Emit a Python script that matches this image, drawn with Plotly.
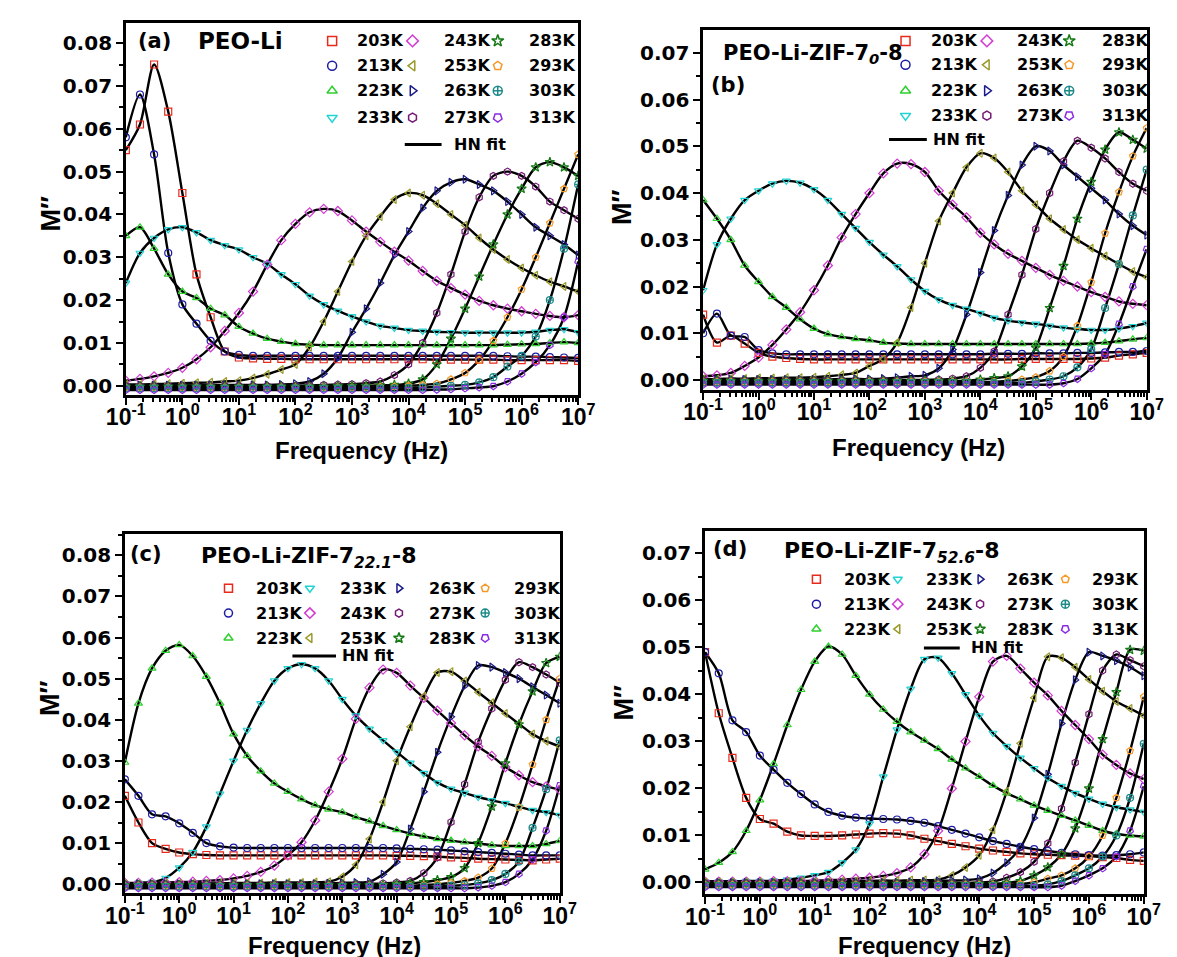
import plotly.graph_objects as go

# ---------------- data ----------------
FREQ_HZ = [0.1, 0.1778, 0.3162, 0.5623, 1.0, 1.778, 3.162, 5.623, 10.0, 17.78, 31.62, 56.23,
           100.0, 177.8, 316.2, 562.3, 1000.0, 1778.0, 3162.0, 5623.0, 1.0e4, 1.778e4, 3.162e4, 5.623e4,
           1.0e5, 1.778e5, 3.162e5, 5.623e5, 1.0e6, 1.778e6, 3.162e6, 5.623e6, 1.0e7]
TEMPS = ["203K", "213K", "223K", "233K", "243K", "253K", "263K", "273K", "283K", "293K", "303K", "313K"]
X_TICK_VALUES = [0.1, 1, 10, 100, 1e3, 1e4, 1e5, 1e6, 1e7]
X_TICK_LABELS = ["10<sup>-1</sup>", "10<sup>0</sup>", "10<sup>1</sup>", "10<sup>2</sup>", "10<sup>3</sup>",
                 "10<sup>4</sup>", "10<sup>5</sup>", "10<sup>6</sup>", "10<sup>7</sup>"]

# Panel (a) PEO-Li
A_203 = [0.0550, 0.0610, 0.0750, 0.0640, 0.0450, 0.0260, 0.0160, 0.0080, 0.0066, 0.0064, 0.0063, 0.0063, 0.0062, 0.0062, 0.0062, 0.0062, 0.0062, 0.0062, 0.0062, 0.0062, 0.0062, 0.0062, 0.0061, 0.0061, 0.0061, 0.0061, 0.0061, 0.0060, 0.0060, 0.0060, 0.0060, 0.0060, 0.0058]
A_213 = [0.0580, 0.0680, 0.0540, 0.0310, 0.0190, 0.0145, 0.0105, 0.0080, 0.0072, 0.0070, 0.0070, 0.0070, 0.0070, 0.0070, 0.0070, 0.0070, 0.0070, 0.0070, 0.0070, 0.0070, 0.0070, 0.0070, 0.0070, 0.0070, 0.0070, 0.0070, 0.0070, 0.0069, 0.0068, 0.0068, 0.0067, 0.0066, 0.0065]
A_223 = [0.0350, 0.0370, 0.0320, 0.0260, 0.0220, 0.0205, 0.0180, 0.0165, 0.0138, 0.0122, 0.0110, 0.0103, 0.0098, 0.0096, 0.0095, 0.0095, 0.0095, 0.0095, 0.0095, 0.0095, 0.0095, 0.0095, 0.0095, 0.0095, 0.0095, 0.0095, 0.0095, 0.0096, 0.0097, 0.0098, 0.0100, 0.0102, 0.0100]
A_233 = [0.0240, 0.0310, 0.0345, 0.0365, 0.0370, 0.0358, 0.0340, 0.0328, 0.0318, 0.0300, 0.0285, 0.0260, 0.0237, 0.0210, 0.0190, 0.0175, 0.0162, 0.0150, 0.0140, 0.0135, 0.0130, 0.0128, 0.0126, 0.0125, 0.0124, 0.0124, 0.0124, 0.0124, 0.0124, 0.0126, 0.0130, 0.0132, 0.0125]
A_243 = [0.0012, 0.0016, 0.0022, 0.0030, 0.0042, 0.0062, 0.0090, 0.0128, 0.0170, 0.0220, 0.0283, 0.0340, 0.0378, 0.0405, 0.0413, 0.0408, 0.0386, 0.0360, 0.0336, 0.0313, 0.0292, 0.0268, 0.0245, 0.0228, 0.0213, 0.0198, 0.0188, 0.0180, 0.0174, 0.0168, 0.0163, 0.0160, 0.0165]
A_253 = [0.0003, 0.0003, 0.0004, 0.0005, 0.0006, 0.0007, 0.0008, 0.0010, 0.0012, 0.0018, 0.0027, 0.0038, 0.0050, 0.0090, 0.0150, 0.0220, 0.0290, 0.0350, 0.0395, 0.0435, 0.0450, 0.0445, 0.0425, 0.0400, 0.0375, 0.0345, 0.0318, 0.0295, 0.0275, 0.0258, 0.0243, 0.0232, 0.0220]
A_263 = [0.0001, 0.0001, 0.0001, 0.0001, 0.0001, 0.0001, 0.0002, 0.0002, 0.0002, 0.0002, 0.0002, 0.0003, 0.0005, 0.0010, 0.0028, 0.0065, 0.0125, 0.0180, 0.0240, 0.0305, 0.0360, 0.0415, 0.0455, 0.0475, 0.0482, 0.0470, 0.0455, 0.0430, 0.0400, 0.0370, 0.0350, 0.0330, 0.0305]
A_273 = [0.0, 0.0, 0.0, 0.0, 0.0, 0.0, 0.0, 0.0, 0.0, 0.0, 0.0, 0.0, 0.0, 0.0001, 0.0002, 0.0003, 0.0004, 0.0006, 0.0010, 0.0025, 0.0050, 0.0100, 0.0170, 0.0260, 0.0360, 0.0440, 0.0490, 0.0500, 0.0490, 0.0465, 0.0430, 0.0410, 0.0390]
A_283 = [-0.0002, -0.0002, -0.0002, -0.0002, -0.0002, -0.0002, -0.0002, -0.0002, -0.0002, -0.0002, -0.0002, -0.0002, -0.0002, -0.0002, -0.0002, -0.0001, 0.0, 0.0, 0.0001, 0.0002, 0.0005, 0.0015, 0.0050, 0.0110, 0.0180, 0.0255, 0.0330, 0.0400, 0.0460, 0.0510, 0.0522, 0.0510, 0.0490]
A_293 = [-0.0004, -0.0004, -0.0004, -0.0004, -0.0004, -0.0004, -0.0004, -0.0004, -0.0004, -0.0004, -0.0004, -0.0004, -0.0004, -0.0004, -0.0004, -0.0004, -0.0004, -0.0004, -0.0003, -0.0002, 0.0, 0.0002, 0.0005, 0.0015, 0.0030, 0.0060, 0.0105, 0.0160, 0.0225, 0.0300, 0.0380, 0.0460, 0.0540]
A_303 = [-0.0006, -0.0006, -0.0006, -0.0006, -0.0006, -0.0006, -0.0006, -0.0006, -0.0006, -0.0006, -0.0006, -0.0006, -0.0006, -0.0006, -0.0006, -0.0006, -0.0006, -0.0006, -0.0006, -0.0006, -0.0005, -0.0004, -0.0002, 0.0, 0.0002, 0.0008, 0.0020, 0.0045, 0.0070, 0.0115, 0.0200, 0.0320, 0.0470]
A_313 = [-0.0010, -0.0010, -0.0010, -0.0010, -0.0010, -0.0010, -0.0010, -0.0010, -0.0010, -0.0010, -0.0010, -0.0010, -0.0010, -0.0010, -0.0010, -0.0010, -0.0010, -0.0010, -0.0010, -0.0010, -0.0010, -0.0010, -0.0009, -0.0008, -0.0006, -0.0004, -0.0001, 0.0010, 0.0028, 0.0055, 0.0095, 0.0160, 0.0290]

# Panel (b) PEO-Li-ZIF-7_0-8
B_203 = [0.0140, 0.0080, 0.0095, 0.0078, 0.0058, 0.0050, 0.0047, 0.0045, 0.0044, 0.0044, 0.0044, 0.0044, 0.0044, 0.0044, 0.0044, 0.0044, 0.0044, 0.0044, 0.0044, 0.0044, 0.0044, 0.0044, 0.0044, 0.0045, 0.0045, 0.0045, 0.0045, 0.0045, 0.0046, 0.0048, 0.0052, 0.0055, 0.0058]
B_213 = [0.0100, 0.0142, 0.0095, 0.0092, 0.0064, 0.0057, 0.0055, 0.0055, 0.0055, 0.0055, 0.0055, 0.0055, 0.0055, 0.0055, 0.0055, 0.0055, 0.0055, 0.0055, 0.0055, 0.0055, 0.0055, 0.0056, 0.0056, 0.0056, 0.0057, 0.0057, 0.0057, 0.0058, 0.0058, 0.0059, 0.0060, 0.0060, 0.0062]
B_223 = [0.0385, 0.0345, 0.0300, 0.0245, 0.0210, 0.0178, 0.0155, 0.0130, 0.0110, 0.0098, 0.0092, 0.0088, 0.0085, 0.0080, 0.0078, 0.0077, 0.0077, 0.0077, 0.0077, 0.0077, 0.0077, 0.0077, 0.0077, 0.0077, 0.0077, 0.0077, 0.0077, 0.0077, 0.0078, 0.0080, 0.0083, 0.0087, 0.0090]
B_233 = [0.0192, 0.0290, 0.0345, 0.0385, 0.0405, 0.0420, 0.0426, 0.0422, 0.0408, 0.0385, 0.0355, 0.0325, 0.0295, 0.0268, 0.0243, 0.0215, 0.0190, 0.0172, 0.0160, 0.0152, 0.0143, 0.0133, 0.0127, 0.0123, 0.0120, 0.0116, 0.0112, 0.0109, 0.0107, 0.0107, 0.0110, 0.0115, 0.0122]
B_243 = [0.0008, 0.0010, 0.0015, 0.0030, 0.0048, 0.0075, 0.0108, 0.0145, 0.0192, 0.0245, 0.0305, 0.0355, 0.0400, 0.0442, 0.0463, 0.0462, 0.0445, 0.0405, 0.0375, 0.0348, 0.0315, 0.0290, 0.0270, 0.0255, 0.0240, 0.0225, 0.0212, 0.0200, 0.0188, 0.0178, 0.0168, 0.0163, 0.0160]
B_253 = [0.0002, 0.0002, 0.0003, 0.0003, 0.0004, 0.0004, 0.0005, 0.0005, 0.0006, 0.0008, 0.0011, 0.0015, 0.0030, 0.0045, 0.0080, 0.0155, 0.0250, 0.0340, 0.0400, 0.0455, 0.0485, 0.0475, 0.0445, 0.0405, 0.0375, 0.0345, 0.0322, 0.0300, 0.0282, 0.0265, 0.0248, 0.0232, 0.0220]
B_263 = [0.0001, 0.0001, 0.0001, 0.0001, 0.0001, 0.0001, 0.0001, 0.0001, 0.0001, 0.0001, 0.0002, 0.0002, 0.0002, 0.0003, 0.0005, 0.0008, 0.0010, 0.0025, 0.0065, 0.0140, 0.0230, 0.0320, 0.0395, 0.0460, 0.0500, 0.0490, 0.0460, 0.0435, 0.0410, 0.0385, 0.0355, 0.0330, 0.0310]
B_273 = [0.0, 0.0, 0.0, 0.0, 0.0, 0.0, 0.0, 0.0, 0.0, 0.0, 0.0, 0.0, 0.0, 0.0, 0.0, 0.0, 0.0, 0.0001, 0.0003, 0.0008, 0.0026, 0.0061, 0.0140, 0.0225, 0.0323, 0.0400, 0.0468, 0.0512, 0.0497, 0.0474, 0.0445, 0.0420, 0.0405]
B_283 = [-0.0002, -0.0002, -0.0002, -0.0002, -0.0002, -0.0002, -0.0002, -0.0002, -0.0002, -0.0002, -0.0002, -0.0002, -0.0002, -0.0002, -0.0002, -0.0002, -0.0002, -0.0002, -0.0002, -0.0002, 0.0001, 0.0004, 0.0008, 0.0029, 0.0069, 0.0154, 0.0244, 0.0345, 0.0424, 0.0493, 0.0530, 0.0514, 0.0495]
B_293 = [-0.0004, -0.0004, -0.0004, -0.0004, -0.0004, -0.0004, -0.0004, -0.0004, -0.0004, -0.0004, -0.0004, -0.0004, -0.0004, -0.0004, -0.0004, -0.0004, -0.0004, -0.0004, -0.0004, -0.0004, -0.0004, -0.0004, -0.0002, 0.0001, 0.0006, 0.0019, 0.0050, 0.0116, 0.0209, 0.0314, 0.0402, 0.0479, 0.0539]
B_303 = [-0.0006, -0.0006, -0.0006, -0.0006, -0.0006, -0.0006, -0.0006, -0.0006, -0.0006, -0.0006, -0.0006, -0.0006, -0.0006, -0.0006, -0.0006, -0.0006, -0.0006, -0.0006, -0.0006, -0.0006, -0.0006, -0.0006, -0.0006, -0.0006, -0.0003, 0.0001, 0.0008, 0.0027, 0.0066, 0.0154, 0.0248, 0.0352, 0.0450]
B_313 = [-0.0010, -0.0010, -0.0010, -0.0010, -0.0010, -0.0010, -0.0010, -0.0010, -0.0010, -0.0010, -0.0010, -0.0010, -0.0010, -0.0010, -0.0010, -0.0010, -0.0010, -0.0010, -0.0010, -0.0010, -0.0010, -0.0010, -0.0010, -0.0010, -0.0010, -0.0010, -0.0007, 0.0002, 0.0025, 0.0055, 0.0120, 0.0200, 0.0280]

# Panel (c) PEO-Li-ZIF-7_22.1-8
C_203 = [0.0215, 0.0150, 0.0100, 0.0086, 0.0077, 0.0073, 0.0071, 0.0070, 0.0070, 0.0070, 0.0070, 0.0070, 0.0070, 0.0070, 0.0070, 0.0070, 0.0070, 0.0070, 0.0070, 0.0070, 0.0069, 0.0069, 0.0068, 0.0067, 0.0065, 0.0064, 0.0062, 0.0061, 0.0060, 0.0059, 0.0058, 0.0060, 0.0062]
C_213 = [0.0255, 0.0215, 0.0170, 0.0165, 0.0148, 0.0125, 0.0100, 0.0092, 0.0089, 0.0088, 0.0088, 0.0088, 0.0088, 0.0088, 0.0088, 0.0088, 0.0088, 0.0088, 0.0088, 0.0088, 0.0087, 0.0086, 0.0085, 0.0084, 0.0082, 0.0080, 0.0078, 0.0076, 0.0074, 0.0072, 0.0070, 0.0070, 0.0070]
C_223 = [0.0296, 0.0440, 0.0525, 0.0568, 0.0582, 0.0555, 0.0505, 0.0440, 0.0365, 0.0312, 0.0275, 0.0245, 0.0225, 0.0207, 0.0192, 0.0182, 0.0175, 0.0163, 0.0153, 0.0142, 0.0132, 0.0123, 0.0116, 0.0110, 0.0106, 0.0102, 0.0099, 0.0095, 0.0093, 0.0093, 0.0093, 0.0098, 0.0105]
C_233 = [0.0002, 0.0003, 0.0005, 0.0015, 0.0040, 0.0078, 0.0140, 0.0220, 0.0300, 0.0375, 0.0440, 0.0495, 0.0525, 0.0535, 0.0525, 0.0495, 0.0450, 0.0410, 0.0378, 0.0350, 0.0322, 0.0295, 0.0270, 0.0247, 0.0232, 0.0222, 0.0212, 0.0204, 0.0197, 0.0188, 0.0180, 0.0175, 0.0168]
C_243 = [0.0003, 0.0003, 0.0004, 0.0004, 0.0005, 0.0006, 0.0008, 0.0010, 0.0014, 0.0020, 0.0030, 0.0045, 0.0070, 0.0102, 0.0155, 0.0225, 0.0305, 0.0402, 0.0478, 0.0522, 0.0514, 0.0483, 0.0453, 0.0422, 0.0392, 0.0362, 0.0335, 0.0312, 0.0285, 0.0265, 0.0248, 0.0238, 0.0230]
C_253 = [0.0001, 0.0001, 0.0001, 0.0002, 0.0002, 0.0002, 0.0002, 0.0002, 0.0003, 0.0003, 0.0003, 0.0004, 0.0004, 0.0004, 0.0005, 0.0006, 0.0018, 0.0047, 0.0110, 0.0200, 0.0300, 0.0383, 0.0457, 0.0515, 0.0517, 0.0494, 0.0467, 0.0441, 0.0415, 0.0390, 0.0365, 0.0348, 0.0335]
C_263 = [0.0001, 0.0001, 0.0001, 0.0001, 0.0001, 0.0001, 0.0001, 0.0001, 0.0001, 0.0001, 0.0001, 0.0001, 0.0001, 0.0001, 0.0001, 0.0002, 0.0003, 0.0004, 0.0006, 0.0024, 0.0054, 0.0134, 0.0225, 0.0321, 0.0407, 0.0482, 0.0532, 0.0528, 0.0515, 0.0500, 0.0480, 0.0460, 0.0440]
C_273 = [0.0, 0.0, 0.0, 0.0, 0.0, 0.0, 0.0, 0.0, 0.0, 0.0, 0.0, 0.0, 0.0, 0.0, 0.0, 0.0, 0.0, 0.0, 0.0001, 0.0002, 0.0004, 0.0008, 0.0027, 0.0065, 0.0151, 0.0243, 0.0346, 0.0427, 0.0497, 0.0540, 0.0528, 0.0510, 0.0490]
C_283 = [-0.0002, -0.0002, -0.0002, -0.0002, -0.0002, -0.0002, -0.0002, -0.0002, -0.0002, -0.0002, -0.0002, -0.0002, -0.0002, -0.0002, -0.0002, -0.0002, -0.0002, -0.0002, -0.0002, -0.0002, 0.0, 0.0002, 0.0005, 0.0010, 0.0017, 0.0039, 0.0100, 0.0189, 0.0294, 0.0389, 0.0469, 0.0538, 0.0553]
C_293 = [-0.0004, -0.0004, -0.0004, -0.0004, -0.0004, -0.0004, -0.0004, -0.0004, -0.0004, -0.0004, -0.0004, -0.0004, -0.0004, -0.0004, -0.0004, -0.0004, -0.0004, -0.0004, -0.0004, -0.0004, -0.0004, -0.0004, -0.0002, 0.0, 0.0003, 0.0008, 0.0016, 0.0038, 0.0099, 0.0187, 0.0291, 0.0400, 0.0500]
C_303 = [-0.0006, -0.0006, -0.0006, -0.0006, -0.0006, -0.0006, -0.0006, -0.0006, -0.0006, -0.0006, -0.0006, -0.0006, -0.0006, -0.0006, -0.0006, -0.0006, -0.0006, -0.0006, -0.0006, -0.0006, -0.0006, -0.0006, -0.0006, -0.0006, -0.0004, -0.0002, 0.0002, 0.0010, 0.0025, 0.0055, 0.0137, 0.0231, 0.0350]
C_313 = [-0.0010, -0.0010, -0.0010, -0.0010, -0.0010, -0.0010, -0.0010, -0.0010, -0.0010, -0.0010, -0.0010, -0.0010, -0.0010, -0.0010, -0.0010, -0.0010, -0.0010, -0.0010, -0.0010, -0.0010, -0.0010, -0.0010, -0.0010, -0.0010, -0.0010, -0.0010, -0.0008, -0.0004, 0.0005, 0.0025, 0.0060, 0.0130, 0.0240]

# Panel (d) PEO-Li-ZIF-7_52.6-8
D_203 = [0.0490, 0.0360, 0.0265, 0.0180, 0.0135, 0.0125, 0.0108, 0.0100, 0.0099, 0.0099, 0.0100, 0.0102, 0.0104, 0.0105, 0.0104, 0.0100, 0.0093, 0.0088, 0.0082, 0.0077, 0.0072, 0.0068, 0.0065, 0.0062, 0.0060, 0.0059, 0.0058, 0.0057, 0.0056, 0.0054, 0.0052, 0.0048, 0.0046]
D_213 = [0.0490, 0.0445, 0.0345, 0.0320, 0.0270, 0.0240, 0.0212, 0.0188, 0.0166, 0.0150, 0.0142, 0.0138, 0.0136, 0.0135, 0.0134, 0.0131, 0.0127, 0.0120, 0.0112, 0.0104, 0.0096, 0.0088, 0.0082, 0.0076, 0.0071, 0.0067, 0.0063, 0.0060, 0.0058, 0.0057, 0.0058, 0.0060, 0.0064]
D_223 = [0.0028, 0.0042, 0.0065, 0.0110, 0.0175, 0.0252, 0.0335, 0.0410, 0.0470, 0.0502, 0.0485, 0.0440, 0.0400, 0.0368, 0.0342, 0.0320, 0.0302, 0.0284, 0.0262, 0.0243, 0.0225, 0.0206, 0.0190, 0.0177, 0.0164, 0.0153, 0.0142, 0.0132, 0.0121, 0.0110, 0.0103, 0.0100, 0.0098]
D_233 = [0.0002, 0.0002, 0.0002, 0.0003, 0.0003, 0.0004, 0.0006, 0.0010, 0.0015, 0.0022, 0.0042, 0.0070, 0.0125, 0.0225, 0.0325, 0.0412, 0.0475, 0.0478, 0.0445, 0.0400, 0.0355, 0.0318, 0.0290, 0.0265, 0.0243, 0.0222, 0.0205, 0.0190, 0.0178, 0.0167, 0.0160, 0.0155, 0.0150]
D_243 = [0.0002, 0.0002, 0.0002, 0.0002, 0.0002, 0.0003, 0.0003, 0.0003, 0.0004, 0.0005, 0.0006, 0.0008, 0.0010, 0.0014, 0.0020, 0.0032, 0.0060, 0.0110, 0.0200, 0.0300, 0.0395, 0.0470, 0.0482, 0.0455, 0.0425, 0.0398, 0.0365, 0.0335, 0.0305, 0.0272, 0.0250, 0.0232, 0.0220]
D_253 = [0.0001, 0.0001, 0.0001, 0.0001, 0.0001, 0.0001, 0.0002, 0.0002, 0.0002, 0.0002, 0.0003, 0.0003, 0.0003, 0.0004, 0.0004, 0.0005, 0.0005, 0.0006, 0.0015, 0.0032, 0.0058, 0.0112, 0.0194, 0.0296, 0.0393, 0.0480, 0.0478, 0.0458, 0.0432, 0.0407, 0.0385, 0.0370, 0.0355]
D_263 = [0.0, 0.0, 0.0, 0.0, 0.0, 0.0, 0.0, 0.0, 0.0, 0.0, 0.0, 0.0, 0.0, 0.0, 0.0, 0.0001, 0.0002, 0.0003, 0.0004, 0.0005, 0.0008, 0.0020, 0.0042, 0.0074, 0.0137, 0.0230, 0.0338, 0.0431, 0.0490, 0.0482, 0.0472, 0.0458, 0.0440]
D_273 = [-0.0001, -0.0001, -0.0001, -0.0001, -0.0001, -0.0001, -0.0001, -0.0001, -0.0001, -0.0001, -0.0001, -0.0001, -0.0001, -0.0001, -0.0001, -0.0001, -0.0001, -0.0001, -0.0001, -0.0001, 0.0, 0.0002, 0.0010, 0.0022, 0.0044, 0.0083, 0.0157, 0.0255, 0.0358, 0.0451, 0.0485, 0.0473, 0.0460]
D_283 = [-0.0003, -0.0003, -0.0003, -0.0003, -0.0003, -0.0003, -0.0003, -0.0003, -0.0003, -0.0003, -0.0003, -0.0003, -0.0003, -0.0003, -0.0003, -0.0003, -0.0003, -0.0003, -0.0003, -0.0003, -0.0003, -0.0003, -0.0001, 0.0003, 0.0015, 0.0032, 0.0060, 0.0115, 0.0200, 0.0305, 0.0405, 0.0495, 0.0493]
D_293 = [-0.0005, -0.0005, -0.0005, -0.0005, -0.0005, -0.0005, -0.0005, -0.0005, -0.0005, -0.0005, -0.0005, -0.0005, -0.0005, -0.0005, -0.0005, -0.0005, -0.0005, -0.0005, -0.0005, -0.0005, -0.0005, -0.0005, -0.0005, -0.0003, 0.0, 0.0008, 0.0015, 0.0030, 0.0055, 0.0100, 0.0180, 0.0280, 0.0395]
D_303 = [-0.0007, -0.0007, -0.0007, -0.0007, -0.0007, -0.0007, -0.0007, -0.0007, -0.0007, -0.0007, -0.0007, -0.0007, -0.0007, -0.0007, -0.0007, -0.0007, -0.0007, -0.0007, -0.0007, -0.0007, -0.0007, -0.0007, -0.0007, -0.0007, -0.0007, -0.0004, 0.0003, 0.0015, 0.0030, 0.0055, 0.0100, 0.0180, 0.0295]
D_313 = [-0.0010, -0.0010, -0.0010, -0.0010, -0.0010, -0.0010, -0.0010, -0.0010, -0.0010, -0.0010, -0.0010, -0.0010, -0.0010, -0.0010, -0.0010, -0.0010, -0.0010, -0.0010, -0.0010, -0.0010, -0.0010, -0.0010, -0.0010, -0.0010, -0.0010, -0.0010, -0.0007, 0.0003, 0.0015, 0.0030, 0.0055, 0.0110, 0.0205]

PANEL_SERIES = [
    [A_203, A_213, A_223, A_233, A_243, A_253, A_263, A_273, A_283, A_293, A_303, A_313],
    [B_203, B_213, B_223, B_233, B_243, B_253, B_263, B_273, B_283, B_293, B_303, B_313],
    [C_203, C_213, C_223, C_233, C_243, C_253, C_263, C_273, C_283, C_293, C_303, C_313],
    [D_203, D_213, D_223, D_233, D_243, D_253, D_263, D_273, D_283, D_293, D_303, D_313],
]
for group in PANEL_SERIES:
    for s in group:
        assert len(s) == len(FREQ_HZ), len(s)

# ---------------- styles / layout ----------------
W, H = 1177, 957
SYMBOLS = ["square-open", "circle-open", "triangle-up-open", "triangle-down-open", "diamond-open",
           "triangle-left-open", "triangle-right-open", "hexagon-open", "star-open", "pentagon-open",
           "circle-cross-open", "pentagon-open"]
ANGLES = [0, 0, 0, 0, 0, 0, 0, 0, 0, 0, 0, 180]
COLORS = ["#e8291c", "#1c1ca6", "#30d030", "#22d3d3", "#d23cd2", "#9a9a2a", "#1a1a8a", "#741a74",
          "#147a14", "#f59a2a", "#1f8a8a", "#8a2be2"]

# pixel boxes of the plot areas: (left, top, right, bottom), and y ranges
BOXES = [(101, 15, 568, 388), (697, 22, 1155, 383), (100, 528, 549, 888), (699, 525, 1152, 889)]
YRANGES = [(-0.0021, 0.0847), (-0.0021, 0.0749), (-0.0022, 0.0851), (-0.0025, 0.0747)]

LEGENDS = [
    dict(rows=[33, 58, 83, 110], mx=[314, 397, 485], lx=[338, 427, 515], hn=(389, 427, 137, 438), ms=9),
    dict(rows=[33, 57, 83, 108], mx=[906, 990, 1075], lx=[930, 1019, 1107], hn=(889, 928, 132, 932), ms=9),
    dict(rows=[582, 607, 632], mx=[207, 291, 383, 472], lx=[233, 320, 412, 500], hn=(273, 318, 650, 322), ms=8),
    dict(rows=[573, 598, 623], mx=[814, 898, 983, 1071], lx=[840, 925, 1009, 1096], hn=(925, 962, 642, 972), ms=8),
]
TITLES = [
    (111, 33, "(a)", 21), (173, 33, "PEO-Li", 23),
    (716, 46, "PEO-Li-ZIF-7<sub><i>0</i></sub>-8", 21), (703, 77, "(b)", 21),
    (103, 548, "(c)", 21), (177, 551, "PEO-Li-ZIF-7<sub><i>22.1</i></sub>-8", 22),
    (705, 543, "(d)", 21), (778, 546, "PEO-Li-ZIF-7<sub><i>52.6</i></sub>-8", 22),
]
# (x center, y of the text box bottom)
XTITLES = [(344, 458), (919, 455), (316, 955), (926, 955)]
YTITLES = [(24, 207), (614, 200), (23, 693), (615, 697)]

DJ = "DejaVu Sans"
LS = "Liberation Sans"

fig = go.Figure()
layout = dict(width=W, height=H, margin=dict(l=0, r=0, t=0, b=0), autosize=False,
              paper_bgcolor="white", plot_bgcolor="rgba(0,0,0,0)", showlegend=False)

minor_x = [m * 10 ** e for e in range(-1, 7) for m in range(2, 10)]

for i, series in enumerate(PANEL_SERIES):
    n = i + 1
    xa = "x" if n == 1 else f"x{n}"
    ya = "y" if n == 1 else f"y{n}"
    l, t, r, b = BOXES[i]
    # fit lines first
    for k, vals in enumerate(series):
        fig.add_trace(go.Scatter(x=FREQ_HZ, y=vals, mode="lines", xaxis=xa, yaxis=ya,
                                 line=dict(color="black", width=2.4, shape="spline", smoothing=0.8),
                                 hoverinfo="skip"))
    for k, vals in enumerate(series):
        fig.add_trace(go.Scatter(x=FREQ_HZ, y=vals, mode="markers", xaxis=xa, yaxis=ya,
                                 name=TEMPS[k],
                                 marker=dict(symbol=SYMBOLS[k], angle=ANGLES[k], size=7,
                                             color=COLORS[k], line=dict(width=1.2, color=COLORS[k]))))
    layout["xaxis" if n == 1 else f"xaxis{n}"] = dict(
        type="log", range=[-1, 7], domain=[l / W, r / W], anchor=ya,
        tickmode="array", tickvals=X_TICK_VALUES, ticktext=X_TICK_LABELS,
        ticks="outside", ticklen=7, tickwidth=2, tickcolor="black", ticklabelstandoff=-7,
        minor=dict(tickmode="array", tickvals=minor_x, ticks="outside", ticklen=4, tickwidth=1.5,
                   tickcolor="black"),
        showline=True, linewidth=2.5, linecolor="black", mirror=True,
        showgrid=False, zeroline=False,
        tickfont=dict(family=LS, size=23, color="black", weight="bold"))
    layout["yaxis" if n == 1 else f"yaxis{n}"] = dict(
        range=list(YRANGES[i]), domain=[1 - b / H, 1 - t / H], anchor=xa,
        tickmode="linear", tick0=0, dtick=0.01, tickformat=".2f",
        ticks="outside", ticklen=7, tickwidth=2, tickcolor="black",
        minor=dict(dtick=0.005, tick0=0, ticks="outside", ticklen=4, tickwidth=1.5, tickcolor="black"),
        showline=True, linewidth=2.5, linecolor="black", mirror=True,
        showgrid=False, zeroline=False,
        tickfont=dict(family=DJ, size=20, color="black", weight="bold"))

# overlay pixel axes for legends and texts
layout["xaxis5"] = dict(domain=[0, 1], range=[0, W], visible=False, anchor="y5", fixedrange=True)
layout["yaxis5"] = dict(domain=[0, 1], range=[H, 0], visible=False, anchor="x5", fixedrange=True)

annotations = []
for i, lg in enumerate(LEGENDS):
    nrows = len(lg["rows"])
    xs, ys = [], []
    for k, name in enumerate(TEMPS):
        c, rr = divmod(k, nrows)
        xs.append(lg["mx"][c])
        ys.append(lg["rows"][rr])
        annotations.append(dict(x=lg["lx"][c], y=lg["rows"][rr], xref="x5", yref="y5", text=name,
                                showarrow=False, xanchor="left", yanchor="middle",
                                font=dict(family=DJ, size=16, color="black", weight="bold")))
    fig.add_trace(go.Scatter(x=xs, y=ys, mode="markers", xaxis="x5", yaxis="y5", cliponaxis=False,
                             hoverinfo="skip",
                             marker=dict(symbol=SYMBOLS, angle=ANGLES, size=lg["ms"], color=COLORS,
                                         line=dict(width=1.5, color=COLORS))))
    x0, x1, yy, tx = lg["hn"]
    fig.add_trace(go.Scatter(x=[x0, x1], y=[yy, yy], mode="lines", xaxis="x5", yaxis="y5",
                             cliponaxis=False, hoverinfo="skip", line=dict(color="black", width=3)))
    annotations.append(dict(x=tx, y=yy, xref="x5", yref="y5", text="HN fit", showarrow=False,
                            xanchor="left", yanchor="middle",
                            font=dict(family=DJ, size=16, color="black", weight="bold")))

for (x, y, txt, sz) in TITLES:
    annotations.append(dict(x=x, y=y, xref="x5", yref="y5", text=txt, showarrow=False,
                            xanchor="left", yanchor="middle",
                            font=dict(family=DJ, size=sz, color="black", weight="bold")))
for (x, y) in XTITLES:
    annotations.append(dict(x=x, y=y, xref="x5", yref="y5", text="Frequency (Hz)", showarrow=False,
                            xanchor="center", yanchor="bottom", borderpad=0,
                            font=dict(family=LS, size=24, color="black", weight="bold")))
for (x, y) in YTITLES:
    annotations.append(dict(x=x, y=y, xref="x5", yref="y5", text="M\u2033", showarrow=False,
                            textangle=-90, xanchor="center", yanchor="middle",
                            font=dict(family=LS, size=27, color="black", weight="bold")))

layout["annotations"] = annotations
fig.update_layout(**layout)
fig.write_html("out.html")
